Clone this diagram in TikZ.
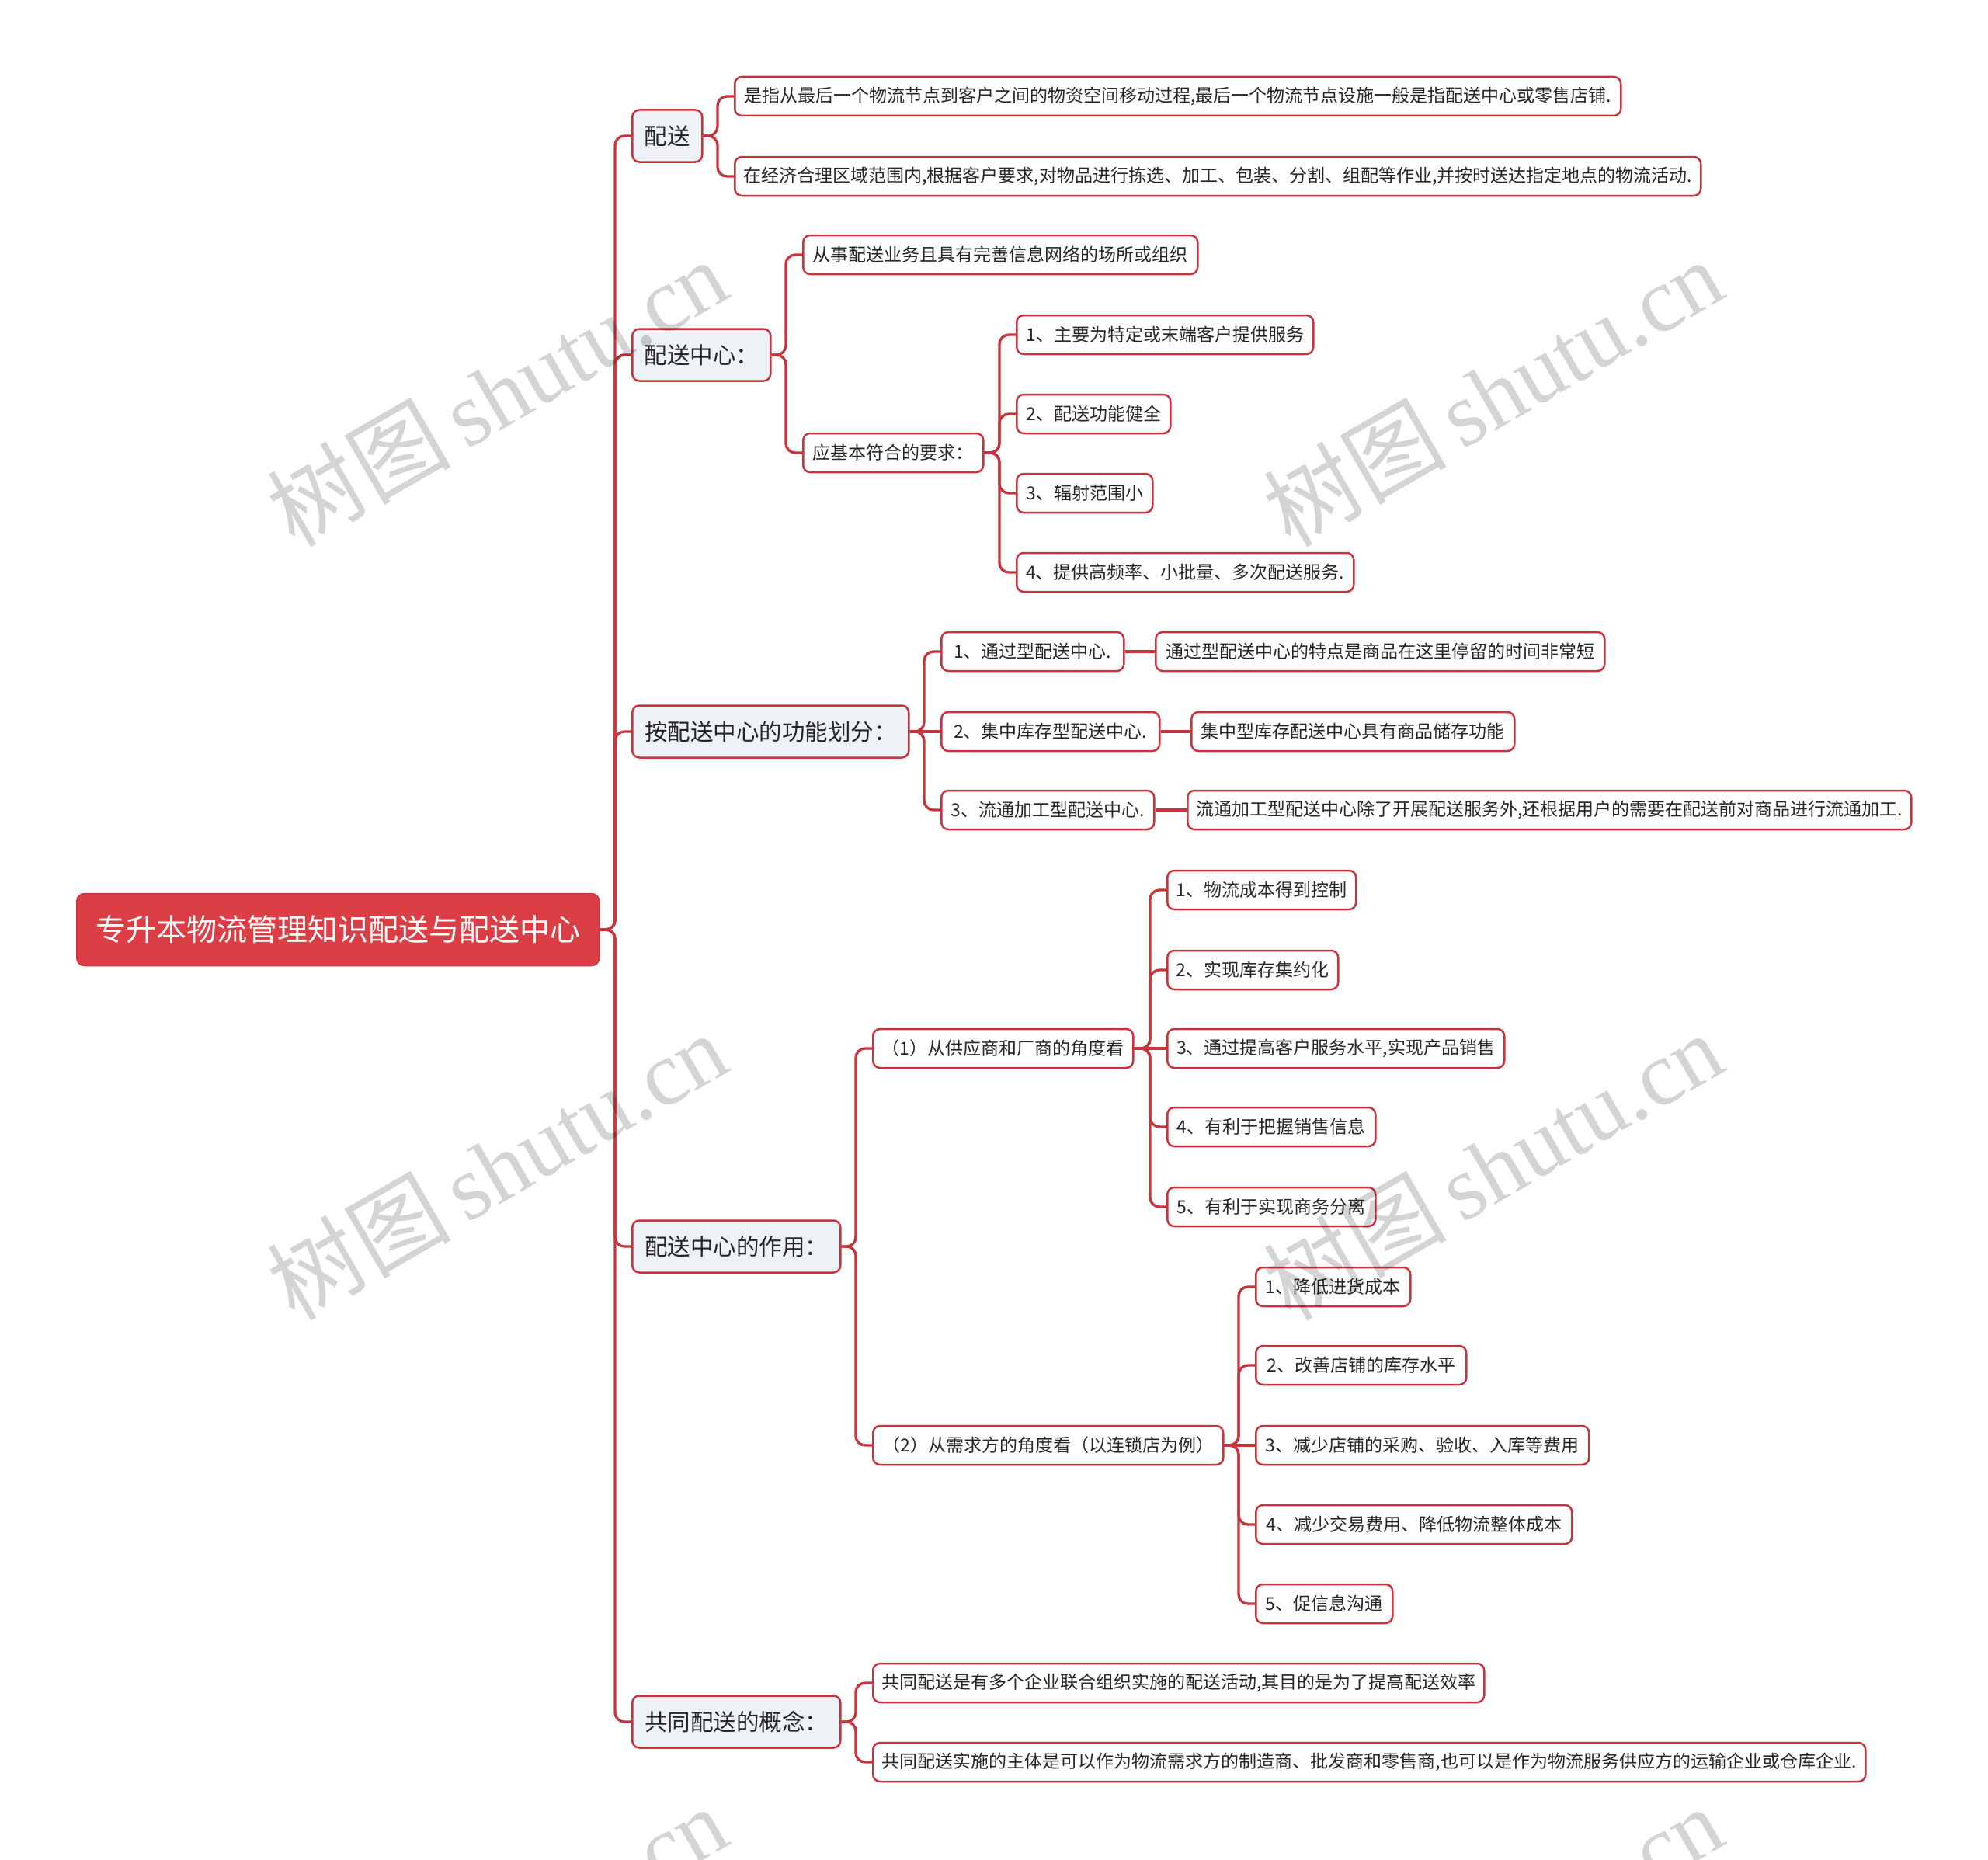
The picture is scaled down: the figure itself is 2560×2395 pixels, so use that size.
\documentclass[tikz,border=0pt]{standalone}
\usepackage{fontspec}
\setmainfont{Noto Sans CJK SC}
\newfontfamily\wmserif{Liberation Serif}
\newfontfamily\wmcjk{Noto Sans CJK SC}
\definecolor{lred}{RGB}{201,52,60}
\definecolor{rootred}{RGB}{220,62,70}
\definecolor{lgray}{RGB}{238,241,245}
\definecolor{txt}{RGB}{38,38,38}
\newcommand\linkto[3]{\draw[conn] (#1.east) -- (#1.east -| #2) |- (#3.west);}
\tikzset{
  leaf/.style={draw=lred, line width=2.5pt, fill=white, rounded corners=9pt,
    minimum height=50pt, inner ysep=0pt, inner xsep=8pt, anchor=west,
    font=\fontsize{23}{27}\selectfont, text=txt},
  lvl/.style={leaf, fill=lgray, minimum height=67pt, font=\fontsize{29.5}{34}\selectfont},
  rootbox/.style={fill=rootred, draw=rootred!90!black, line width=1.5pt, rounded corners=10pt,
    minimum height=93pt, minimum width=673pt, inner sep=0pt, anchor=west, text=white,
    font=\fontsize{39}{45}\selectfont},
  conn/.style={draw=lred, line width=3.3pt, rounded corners=12pt},
  wm/.style={text=black, text opacity=0.17, rotate=30, inner sep=0pt,
    font=\fontsize{118}{128}\selectfont}
}
\begin{document}
\begin{tikzpicture}[x=1pt,y=-1pt]
\useasboundingbox (0,0) rectangle (2560,2395);
\fill[white] (0,0) rectangle (2560,2395);
% coordinates for vertical connector lines
\coordinate (vT) at (792,0);
\coordinate (vA) at (924,0);
\coordinate (vB) at (1012,0);
\coordinate (vBb) at (1287,0);
\coordinate (vF) at (1190,0);
\coordinate (vC) at (1102,0);
\coordinate (vC1) at (1481,0);
\coordinate (vC2) at (1595,0);
\coordinate (vD) at (1102,0);
% root
\node[rootbox] (root) at (98,1197) {专升本物流管理知识配送与配送中心};
% level 1
\node[lvl, minimum width=90pt] (L1) at (813,175) {配送};
\node[lvl, minimum width=178pt] (L2) at (813,457) {配送中心：};
\node[lvl, minimum width=356pt] (L3) at (813,942) {按配送中心的功能划分：};
\node[lvl, minimum width=268pt] (L4) at (813,1605) {配送中心的作用：};
\node[lvl, minimum width=268pt] (L5) at (813,2217) {共同配送的概念：};
% 配送
\node[leaf, minimum width=1141pt] (A1) at (945,124) {是指从最后一个物流节点到客户之间的物资空间移动过程,最后一个物流节点设施一般是指配送中心或零售店铺.};
\node[leaf, minimum width=1244pt] (A2) at (945,227) {在经济合理区域范围内,根据客户要求,对物品进行拣选、加工、包装、分割、组配等作业,并按时送达指定地点的物流活动.};
% 配送中心
\node[leaf, minimum width=508pt] (B1) at (1033,328) {从事配送业务且具有完善信息网络的场所或组织};
\node[leaf, minimum width=232pt] (B2) at (1033,583) {应基本符合的要求：};
\node[leaf, minimum width=382pt] (b1) at (1308,431) {1、主要为特定或末端客户提供服务};
\node[leaf, minimum width=198pt] (b2) at (1308,533) {2、配送功能健全};
\node[leaf, minimum width=175pt] (b3) at (1308,635) {3、辐射范围小};
\node[leaf, minimum width=434pt] (b4) at (1308,737) {4、提供高频率、小批量、多次配送服务.};
% 功能划分
\node[leaf, minimum width=235pt] (f1) at (1211,839) {1、通过型配送中心.};
\node[leaf, minimum width=578pt] (f1x) at (1487,839) {通过型配送中心的特点是商品在这里停留的时间非常短};
\node[leaf, minimum width=281pt] (f2) at (1211,942) {2、集中库存型配送中心.};
\node[leaf, minimum width=416pt] (f2x) at (1533,942) {集中型库存配送中心具有商品储存功能};
\node[leaf, minimum width=274pt] (f3) at (1211,1043) {3、流通加工型配送中心.};
\node[leaf, minimum width=932pt] (f3x) at (1528,1043) {流通加工型配送中心除了开展配送服务外,还根据用户的需要在配送前对商品进行流通加工.};
% 作用
\node[leaf, minimum width=335pt] (C1) at (1123,1350) {（1）从供应商和厂商的角度看};
\node[leaf, minimum width=451pt] (C2) at (1123,1861) {（2）从需求方的角度看（以连锁店为例）};
\node[leaf, minimum width=243pt] (c11) at (1502,1146) {1、物流成本得到控制};
\node[leaf, minimum width=220pt] (c12) at (1502,1249) {2、实现库存集约化};
\node[leaf, minimum width=434pt] (c13) at (1502,1350) {3、通过提高客户服务水平,实现产品销售};
\node[leaf, minimum width=268pt] (c14) at (1502,1451) {4、有利于把握销售信息};
\node[leaf, minimum width=268pt] (c15) at (1502,1554) {5、有利于实现商务分离};
\node[leaf, minimum width=199pt] (c21) at (1616,1657) {1、降低进货成本};
\node[leaf, minimum width=271pt] (c22) at (1616,1758) {2、改善店铺的库存水平};
\node[leaf, minimum width=429pt] (c23) at (1616,1861) {3、减少店铺的采购、验收、入库等费用};
\node[leaf, minimum width=407pt] (c24) at (1616,1963) {4、减少交易费用、降低物流整体成本};
\node[leaf, minimum width=176pt] (c25) at (1616,2065) {5、促信息沟通};
% 共同配送
\node[leaf, minimum width=787pt] (d1) at (1123,2167) {共同配送是有多个企业联合组织实施的配送活动,其目的是为了提高配送效率};
\node[leaf, minimum width=1278pt] (d2) at (1123,2269) {共同配送实施的主体是可以作为物流需求方的制造商、批发商和零售商,也可以是作为物流服务供应方的运输企业或仓库企业.};
% connectors
\linkto{root}{vT}{L1}
\linkto{root}{vT}{L2}
\linkto{root}{vT}{L3}
\linkto{root}{vT}{L4}
\linkto{root}{vT}{L5}
\linkto{L1}{vA}{A1}
\linkto{L1}{vA}{A2}
\linkto{L2}{vB}{B1}
\linkto{L2}{vB}{B2}
\linkto{B2}{vBb}{b1}
\linkto{B2}{vBb}{b2}
\linkto{B2}{vBb}{b3}
\linkto{B2}{vBb}{b4}
\linkto{L3}{vF}{f1}
\draw[conn] (L3.east) -- (f2.west);
\linkto{L3}{vF}{f3}
\draw[conn] (f1.east) -- (f1x.west);
\draw[conn] (f2.east) -- (f2x.west);
\draw[conn] (f3.east) -- (f3x.west);
\linkto{L4}{vC}{C1}
\linkto{L4}{vC}{C2}
\linkto{C1}{vC1}{c11}
\linkto{C1}{vC1}{c12}
\draw[conn] (C1.east) -- (c13.west);
\linkto{C1}{vC1}{c14}
\linkto{C1}{vC1}{c15}
\linkto{C2}{vC2}{c21}
\linkto{C2}{vC2}{c22}
\draw[conn] (C2.east) -- (c23.west);
\linkto{C2}{vC2}{c24}
\linkto{C2}{vC2}{c25}
\linkto{L5}{vD}{d1}
\linkto{L5}{vD}{d2}
% watermarks
\begin{scope}
\clip (0,0) rectangle (2560,2395);
\node[wm] (w1) at (640,505) {\wmcjk 树图\,\wmserif shutu.cn};
\node[wm] (w2) at (1922,505) {\wmcjk 树图\,\wmserif shutu.cn};
\node[wm] (w3) at (640,1501) {\wmcjk 树图\,\wmserif shutu.cn};
\node[wm] (w4) at (1922,1501) {\wmcjk 树图\,\wmserif shutu.cn};
\node[wm] (w5) at (640,2497) {\wmcjk 树图\,\wmserif shutu.cn};
\node[wm] (w6) at (1922,2497) {\wmcjk 树图\,\wmserif shutu.cn};
\end{scope}
\end{tikzpicture}
\end{document}
